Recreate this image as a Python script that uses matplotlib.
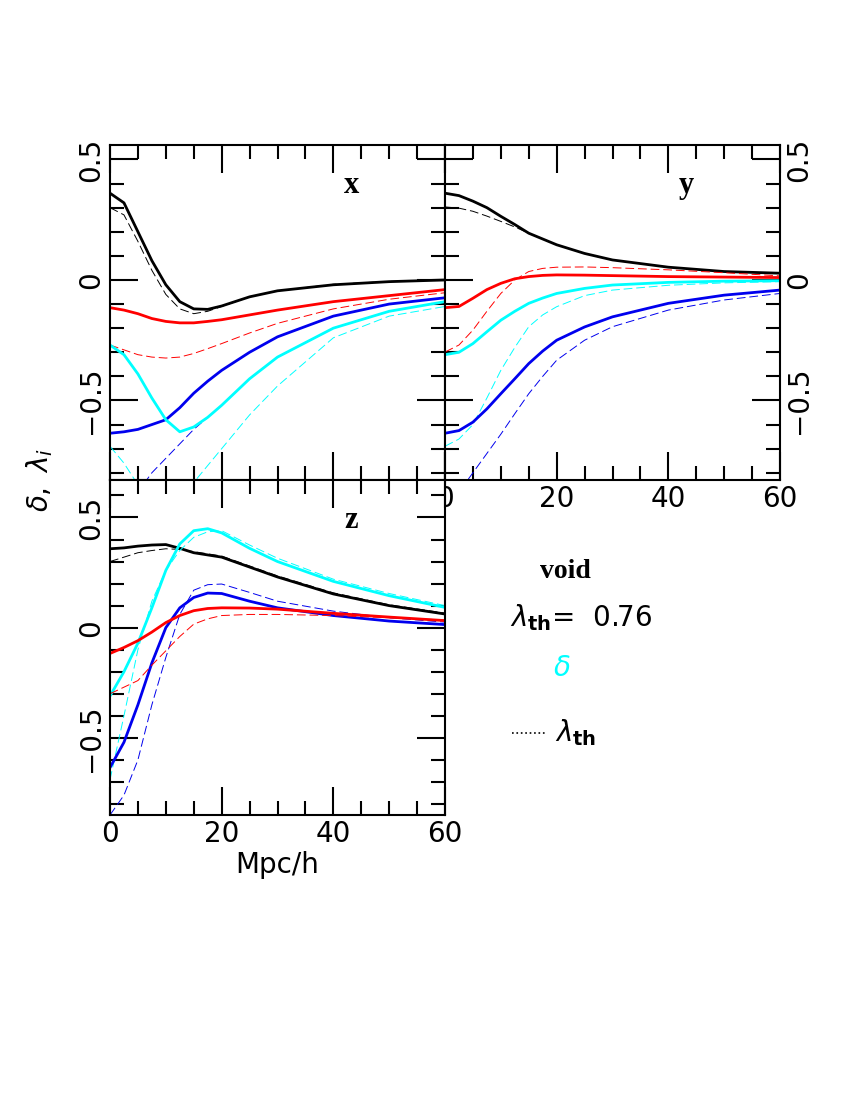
import matplotlib
matplotlib.use("Agg")
import matplotlib.pyplot as plt
from matplotlib.ticker import MultipleLocator, FuncFormatter

X = [0, 2.5, 5, 7.5, 10, 12.5, 15, 17.5, 20, 25, 30, 40, 50, 60]

# panel x
x_black = [0.36, 0.32, 0.2, 0.08, -0.02, -0.09, -0.12, -0.122, -0.108, -0.07, -0.045, -0.02, -0.007, 0.0]
x_black_d = [0.30, 0.27, 0.16, 0.04, -0.06, -0.12, -0.14, -0.13, -0.11, -0.07, -0.045, -0.018, -0.006, 0.0]
x_red = [-0.115, -0.125, -0.14, -0.16, -0.172, -0.178, -0.178, -0.172, -0.165, -0.145, -0.125, -0.09, -0.065, -0.04]
x_red_d = [-0.27, -0.29, -0.31, -0.32, -0.324, -0.32, -0.305, -0.285, -0.264, -0.22, -0.18, -0.12, -0.08, -0.053]
x_blue = [-0.636, -0.63, -0.62, -0.60, -0.58, -0.53, -0.47, -0.42, -0.375, -0.30, -0.236, -0.15, -0.10, -0.074]
x_blue_d = [-1.0, -0.95, -0.88, -0.80, -0.74, -0.68, -0.62, -0.57, -0.52, -0.41, -0.32, -0.20, -0.13, -0.09]
x_cyan = [-0.27, -0.31, -0.39, -0.49, -0.58, -0.63, -0.61, -0.57, -0.52, -0.41, -0.32, -0.20, -0.13, -0.09]
x_cyan_d = [-0.69, -0.76, -0.85, -0.93, -0.98, -0.93, -0.84, -0.77, -0.70, -0.56, -0.44, -0.24, -0.15, -0.11]

# panel y
y_black = [0.36, 0.35, 0.327, 0.30, 0.264, 0.23, 0.194, 0.17, 0.146, 0.11, 0.083, 0.053, 0.035, 0.028]
y_black_d = [0.303, 0.298, 0.285, 0.265, 0.243, 0.22, 0.194, 0.17, 0.146, 0.11, 0.083, 0.053, 0.035, 0.028]
y_red = [-0.115, -0.11, -0.076, -0.04, -0.014, 0.005, 0.014, 0.019, 0.021, 0.02, 0.018, 0.014, 0.012, 0.010]
y_red_d = [-0.299, -0.27, -0.208, -0.13, -0.056, 0.0, 0.035, 0.048, 0.053, 0.054, 0.051, 0.042, 0.03, 0.017]
y_cyan = [-0.31, -0.30, -0.264, -0.215, -0.167, -0.13, -0.097, -0.075, -0.056, -0.035, -0.021, -0.01, -0.005, -0.003]
y_cyan_d = [-0.69, -0.66, -0.6, -0.49, -0.375, -0.28, -0.194, -0.145, -0.111, -0.065, -0.042, -0.022, -0.012, -0.007]
y_blue = [-0.636, -0.625, -0.59, -0.535, -0.472, -0.41, -0.347, -0.295, -0.25, -0.195, -0.153, -0.097, -0.063, -0.042]
y_blue_d = [-0.95, -0.88, -0.80, -0.72, -0.64, -0.555, -0.472, -0.40, -0.333, -0.25, -0.194, -0.125, -0.083, -0.056]

# panel z
z_black = [0.358, 0.362, 0.37, 0.375, 0.377, 0.36, 0.34, 0.33, 0.32, 0.275, 0.23, 0.153, 0.10, 0.062]
z_black_d = [0.30, 0.32, 0.34, 0.35, 0.358, 0.355, 0.345, 0.335, 0.325, 0.28, 0.235, 0.158, 0.104, 0.066]
z_cyan = [-0.31, -0.2, -0.07, 0.09, 0.26, 0.38, 0.44, 0.449, 0.43, 0.36, 0.30, 0.21, 0.145, 0.092]
z_cyan_d = [-0.69, -0.4, -0.1, 0.12, 0.26, 0.35, 0.41, 0.435, 0.44, 0.375, 0.315, 0.22, 0.155, 0.10]
z_blue = [-0.635, -0.52, -0.35, -0.16, 0.0, 0.09, 0.137, 0.157, 0.155, 0.12, 0.09, 0.055, 0.03, 0.014]
z_blue_d = [-0.85, -0.76, -0.60, -0.35, -0.135, 0.06, 0.17, 0.195, 0.198, 0.16, 0.12, 0.075, 0.045, 0.025]
z_red = [-0.117, -0.09, -0.059, -0.02, 0.023, 0.055, 0.077, 0.087, 0.09, 0.089, 0.084, 0.065, 0.048, 0.032]
z_red_d = [-0.30, -0.27, -0.24, -0.17, -0.105, -0.04, 0.016, 0.04, 0.055, 0.06, 0.06, 0.055, 0.045, 0.035]

COL = {"black": "black", "red": "#ff0000", "blue": "#0000ee", "cyan": "#00ffff"}

def fmt(v, pos):
    if abs(v) < 1e-9:
        return "0"
    return ("\u22120.5" if v < 0 else "0.5")

fig = plt.figure(figsize=(8.5, 11), dpi=100)
L, M, R = 110/850, 445/850, 780/850
T, MID, B = 1-145/1100, 1-480/1100, 1-815/1100
axx = fig.add_axes([L, MID, M-L, T-MID])
axy = fig.add_axes([M, MID, R-M, T-MID])
axz = fig.add_axes([L, B, M-L, MID-B])

def draw(ax, data, label):
    for (col, s, d) in data:
        ax.plot(X, d, color=COL[col], lw=0.7, dashes=(9, 4))
        ax.plot(X, s, color=COL[col], lw=2.0)
    ax.set_xlim(0, 60)
    ax.xaxis.set_major_locator(MultipleLocator(20))
    ax.xaxis.set_minor_locator(MultipleLocator(5))
    ax.yaxis.set_major_locator(MultipleLocator(0.5))
    ax.yaxis.set_minor_locator(MultipleLocator(0.1))
    ax.yaxis.set_major_formatter(FuncFormatter(fmt))
    ax.tick_params(which="both", direction="in", top=True, right=True, width=1.5, labelsize=20)
    ax.tick_params(which="major", length=20)
    ax.tick_params(which="minor", length=10)
    for sp in ax.spines.values():
        sp.set_linewidth(1.5)
    ax.text(0.72, 0.88, label, transform=ax.transAxes, fontsize=22, fontweight="bold",
            family="Liberation Serif", ha="center", va="center")

draw(axx, [("black", x_black, x_black_d), ("red", x_red, x_red_d),
           ("blue", x_blue, x_blue_d), ("cyan", x_cyan, x_cyan_d)], "x")
draw(axy, [("black", y_black, y_black_d), ("red", y_red, y_red_d),
           ("cyan", y_cyan, y_cyan_d), ("blue", y_blue, y_blue_d)], "y")
draw(axz, [("black", z_black, z_black_d), ("cyan", z_cyan, z_cyan_d),
           ("blue", z_blue, z_blue_d), ("red", z_red, z_red_d)], "z")

axx.set_ylim(-0.83, 0.56)
axy.set_ylim(-0.83, 0.56)
axz.set_ylim(-0.85, 0.67)
axx.tick_params(labelbottom=False)
axy.tick_params(labelleft=False, labelright=True)
for ax in (axx, axy, axz):
    for t in ax.get_yticklabels():
        t.set_rotation(90); t.set_va("center")
axz.set_xlabel("Mpc/h", fontsize=20, labelpad=2)
fig.text(40/850, 1-480/1100, r"$\delta,\ \lambda_i$", fontsize=20, rotation=90, ha="center", va="center")

fig.text(565/850, 1-572/1100, "void", fontsize=20, family="Liberation Serif", fontweight="bold", ha="center", va="center")
fig.text(510/850, 1-618/1100, r"$\lambda_{\mathbf{th}}$=  0.76", fontsize=20, ha="left", va="center")
fig.text(562/850, 1-668/1100, r"$\delta$", fontsize=20, color=COL["cyan"], ha="center", va="center")
fig.lines.append(plt.Line2D([512/850, 545/850], [1-733/1100]*2, transform=fig.transFigure,
                            color="black", lw=1.2, ls=":"))
fig.text(555/850, 1-733/1100, r"$\lambda_{\mathbf{th}}$", fontsize=20, ha="left", va="center")

fig.savefig("out.png", dpi=100)
